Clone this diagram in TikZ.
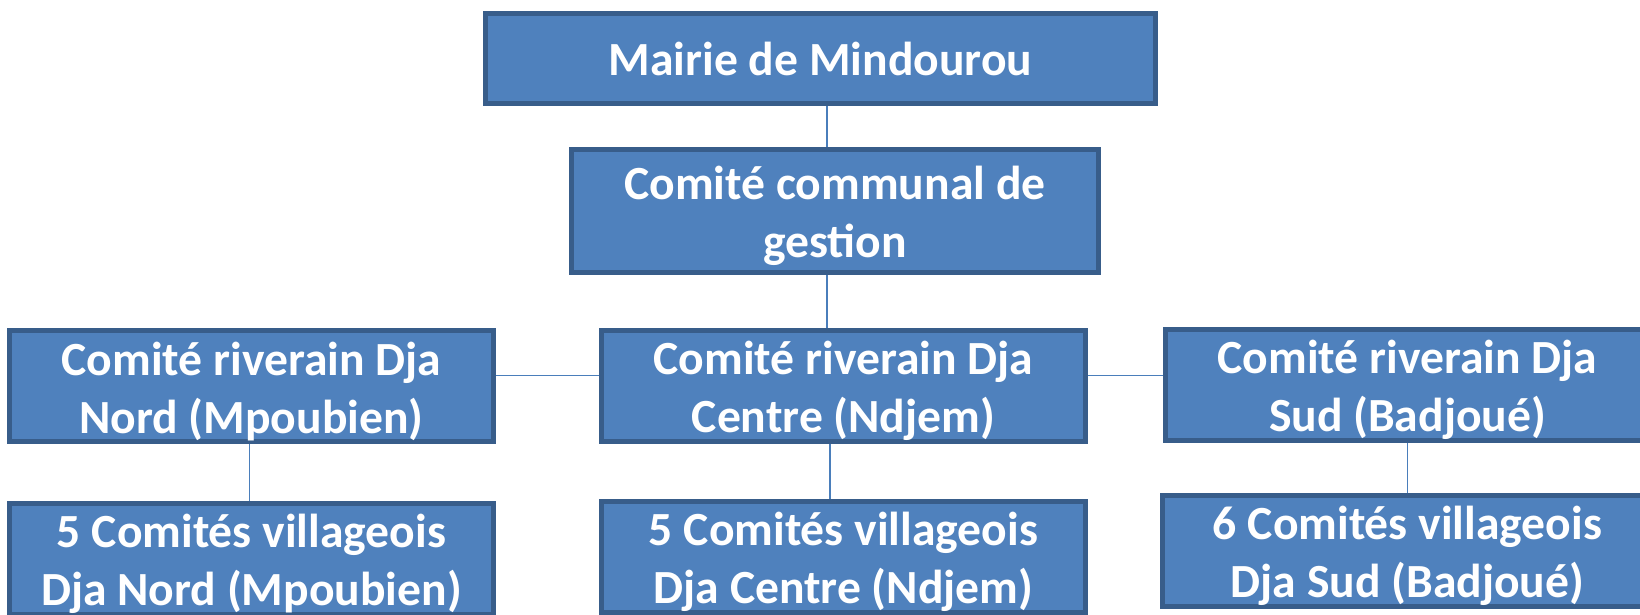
\documentclass[tikz,border=0pt]{standalone}
\usepackage{fontspec}
\setmainfont{Carlito}
\usepackage{tikz}
\usetikzlibrary{positioning}

\definecolor{boxfill}{HTML}{4F81BD}
\definecolor{boxline}{HTML}{385D8A}
\definecolor{linkline}{HTML}{4A7EBB}

\begin{document}
\begin{tikzpicture}[x=0.5pt, y=-0.5pt]
			\tikzset {orgbox/.style={draw=boxline, fill=boxfill, line width=2.5pt, text=white, inner sep=0pt, align=center, font=\fontsize{23.8}{29}\selectfont\bfseries},
				twoline/.style={orgbox, execute at begin node={\rule{0pt}{51pt}}},
				rowbox/.style={twoline, minimum width=242pt, minimum height=55.5pt},
				link/.style={draw=linkline, line width=0.75pt} }

			\useasboundingbox (0,0) rectangle (1640,615);
			\clip (0,0) rectangle (1640,615);

			\node[orgbox, minimum width=335pt, minimum height=45pt] (mairie) at (820.5,58.5) {Mairie de Mindourou};
			\node[twoline, minimum width=263.5pt, minimum height=61.5pt] (comm) [below=20.5pt of mairie, xshift=7.25pt] {Comit\'e communal de\\gestion};
			\node[rowbox]	(rivC) [below=26.5pt of comm, xshift=4.25pt]	{Comit\'e riverain Dja\\Centre (Ndjem)};
			\node[rowbox]	(rivN) [left=51.5pt of rivC]			{Comit\'e riverain Dja\\Nord (Mpoubien)};
			\node[rowbox]	(rivS) [right=37.5pt of rivC, yshift=0.75pt]	{Comit\'e riverain Dja\\Sud (Badjou\'e)};
			\node[rowbox]	(vilN) [below=28.5pt of rivN]			{5 Comit\'es villageois\\Dja Nord (Mpoubien)};
			\node[rowbox]	(vilC) [below=27.5pt of rivC]			{5 Comit\'es villageois\\Dja Centre (Ndjem)};
			\node[rowbox, minimum width=245pt] (vilS) [below=25pt of rivS] {6 Comit\'es villageois\\Dja Sud (Badjou\'e)};

			% liens
			\draw[link] ([xshift=3.25pt]mairie.south) -- ([xshift=3.25pt]mairie.south |- comm.north);
			\draw[link] ([xshift=-4pt]comm.south) -- ([xshift=-4pt]comm.south |- rivC.north);
			\draw[link] ([yshift=5.25pt]rivN.east) -- ([yshift=5.25pt]rivN.east -| rivC.west);
			\draw[link] ([yshift=5.25pt]rivC.east) -- ([yshift=5.25pt]rivC.east -| rivS.west);
			\draw[link] ([xshift=-1pt]rivN.south) -- ([xshift=-1pt]rivN.south |- vilN.north);
			\draw[link] ([xshift=-6.75pt]rivC.south) -- ([xshift=-6.75pt]rivC.south |- vilC.north);
			\draw[link] (rivS.south) -- (rivS.south |- vilS.north);

		\end{tikzpicture}
\end{document}
